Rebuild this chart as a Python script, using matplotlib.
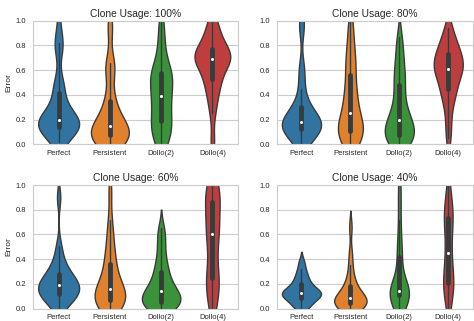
import matplotlib
matplotlib.use("Agg")
import matplotlib.pyplot as plt
from matplotlib.collections import PolyCollection
import seaborn as sns
import pandas as pd

methods = ["Perfect", "Persistent", "Dollo(2)", "Dollo(4)"]
titles = ["Clone Usage: 100%", "Clone Usage: 80%", "Clone Usage: 60%", "Clone Usage: 40%"]

# error samples
u100_perfect = [0.02, 0.06, 0.09, 0.11, 0.12, 0.12, 0.13, 0.14, 0.15, 0.16, 0.17, 0.18, 0.19, 0.20, 0.20,
                0.21, 0.22, 0.24, 0.27, 0.33, 0.40, 0.45, 0.47, 0.52, 0.78, 0.80, 0.82, 0.98]
u100_persistent = [0.0, 0.01, 0.02, 0.03, 0.04, 0.05, 0.06, 0.07, 0.08, 0.08, 0.09, 0.10, 0.11, 0.12, 0.14,
                   0.15, 0.17, 0.19, 0.21, 0.24, 0.28, 0.33, 0.36, 0.42, 0.58, 0.62, 0.64, 0.66, 0.92, 0.98]
u100_dollo2 = [0.0, 0.03, 0.06, 0.09, 0.12, 0.15, 0.17, 0.20, 0.23, 0.27, 0.31, 0.35, 0.37, 0.39, 0.43,
               0.47, 0.50, 0.53, 0.55, 0.57, 0.58, 0.60, 0.65, 0.72, 0.80, 0.90, 1.0]
u100_dollo4 = [0.02, 0.25, 0.35, 0.42, 0.48, 0.50, 0.55, 0.60, 0.63, 0.66, 0.68, 0.69, 0.70, 0.71, 0.72,
               0.74, 0.76, 0.78, 0.80, 0.85, 0.90, 0.95, 1.0]

u80_perfect = [0.0, 0.04, 0.07, 0.09, 0.10, 0.11, 0.12, 0.13, 0.14, 0.15, 0.16, 0.17, 0.17, 0.18, 0.19,
               0.20, 0.22, 0.24, 0.25, 0.28, 0.32, 0.38, 0.45, 0.58, 0.62, 0.95, 0.98]
u80_persistent = [0.0, 0.03, 0.05, 0.07, 0.08, 0.09, 0.10, 0.12, 0.14, 0.16, 0.18, 0.20, 0.23, 0.27, 0.33,
                  0.38, 0.40, 0.42, 0.50, 0.58, 0.62, 0.68, 0.72, 0.80, 0.90, 1.0]
u80_dollo2 = [0.0, 0.02, 0.04, 0.05, 0.06, 0.07, 0.08, 0.10, 0.12, 0.14, 0.17, 0.19, 0.21, 0.24, 0.28,
              0.33, 0.40, 0.47, 0.52, 0.56, 0.62, 0.70, 0.78, 0.87]
u80_dollo4 = [0.05, 0.18, 0.30, 0.38, 0.42, 0.45, 0.50, 0.55, 0.58, 0.60, 0.61, 0.63, 0.65, 0.68, 0.70,
              0.73, 0.76, 0.78, 0.82, 0.88, 0.94]

u60_perfect = [0.0, 0.04, 0.07, 0.09, 0.10, 0.11, 0.12, 0.14, 0.15, 0.17, 0.18, 0.19, 0.20, 0.21, 0.23,
               0.25, 0.27, 0.29, 0.32, 0.36, 0.42, 0.51, 0.90]
u60_persistent = [0.0, 0.01, 0.03, 0.04, 0.05, 0.06, 0.08, 0.10, 0.12, 0.14, 0.15, 0.16, 0.18, 0.21, 0.25,
                  0.30, 0.35, 0.38, 0.45, 0.52, 0.60, 0.72, 0.95]
u60_dollo2 = [0.0, 0.01, 0.02, 0.03, 0.04, 0.05, 0.06, 0.07, 0.09, 0.11, 0.13, 0.14, 0.15, 0.17, 0.20,
              0.24, 0.28, 0.31, 0.36, 0.42, 0.50, 0.58, 0.65]
u60_dollo4 = [0.0, 0.05, 0.12, 0.18, 0.22, 0.25, 0.28, 0.35, 0.48, 0.55, 0.60, 0.63, 0.66, 0.72, 0.80,
              0.86, 0.88, 0.92, 0.96, 1.0, 1.0]

u40_perfect = [0.0, 0.02, 0.04, 0.06, 0.08, 0.09, 0.10, 0.11, 0.12, 0.12, 0.13, 0.14, 0.15, 0.16, 0.18,
               0.20, 0.22, 0.25, 0.28, 0.32, 0.38]
u40_persistent = [0.0, 0.01, 0.02, 0.03, 0.03, 0.04, 0.05, 0.05, 0.06, 0.07, 0.08, 0.09, 0.10, 0.11, 0.13,
                  0.16, 0.19, 0.22, 0.27, 0.35, 0.45, 0.66]
u40_dollo2 = [0.0, 0.05, 0.08, 0.09, 0.10, 0.11, 0.12, 0.12, 0.13, 0.13, 0.14, 0.15, 0.16, 0.18, 0.22,
              0.38, 0.43, 0.48, 0.58, 0.72, 0.88, 1.0]
u40_dollo4 = [0.0, 0.08, 0.15, 0.18, 0.20, 0.22, 0.25, 0.30, 0.40, 0.45, 0.50, 0.60, 0.68, 0.72, 0.75,
              0.78, 0.82, 0.90, 1.0]

panels = [
    [u100_perfect, u100_persistent, u100_dollo2, u100_dollo4],
    [u80_perfect, u80_persistent, u80_dollo2, u80_dollo4],
    [u60_perfect, u60_persistent, u60_dollo2, u60_dollo4],
    [u40_perfect, u40_persistent, u40_dollo2, u40_dollo4],
]

sns.set_style("whitegrid")
plt.rcParams["font.family"] = ["Liberation Sans", "DejaVu Sans"]

fig = plt.figure(figsize=(4.74, 3.21), dpi=100)
W, H = 474.0, 321.0
boxes = [
    (33, 20.7, 238, 144.3), (277, 20.7, 472.7, 144.3),
    (33, 185, 238, 308.7), (277, 185, 472.7, 308.7),
]
palette = [sns.desaturate(c, 0.75) for c in sns.color_palette("tab10", 4)]
for i, (samples, title, b) in enumerate(zip(panels, titles, boxes)):
    x0, y0, x1, y1 = b
    ax = fig.add_axes([x0 / W, 1 - y1 / H, (x1 - x0) / W, (y1 - y0) / H])
    rows = []
    for m, vals in zip(methods, samples):
        rows += [(m, v) for v in vals]
    df = pd.DataFrame(rows, columns=["Method", "Error"])
    sns.violinplot(data=df, x="Method", y="Error", order=methods, color=palette[0],
                   saturation=1, inner="box", linewidth=1, bw_adjust=0.75, ax=ax,
                   linecolor="#3a3a3a",
                   inner_kws=dict(box_width=3.5, whis_width=1, marker="o"))
    polys = [c for c in ax.collections if isinstance(c, PolyCollection)]
    for p, col in zip(polys, palette):
        p.set_facecolor(col)
    for ln in ax.lines:
        if ln.get_marker() == "o":
            ln.set_markersize(2.2)
            ln.set_markeredgewidth(0)
            ln.set_markerfacecolor("white")
    ax.set_ylim(0, 1)
    ax.set_xlim(-0.5, 3.5)
    ax.set_title(title, fontsize=7.4, pad=3)
    ax.set_xlabel("")
    ax.set_ylabel("Error" if i % 2 == 0 else "", fontsize=6, labelpad=2)
    ax.tick_params(axis="both", labelsize=5.5, pad=1.5)
    ax.tick_params(axis="x", pad=0.3)
    ax.set_yticks([0, 0.2, 0.4, 0.6, 0.8, 1.0])
    ax.grid(axis="x", visible=False)

fig.savefig("out.png", dpi=100)
